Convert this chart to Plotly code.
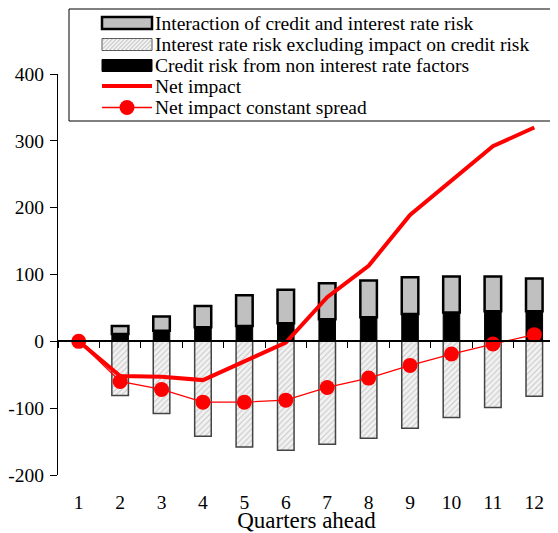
import plotly.graph_objects as go

quarters = list(range(1, 13))
credit_risk = [0, 11, 16, 21, 23, 27, 33, 36, 41, 43, 45, 45]
interaction = [0, 12, 21, 32, 46, 50, 54, 55, 55, 54, 52, 49]
rate_risk = [0, -81, -108, -142, -158, -163, -154, -145, -130, -114, -99, -82]
net_impact = [0, -52, -53, -58, -30, -2, 66, 113, 189, 240, 292, 320]
net_const_spread = [0, -60, -72, -91, -91, -88, -69, -55, -36, -19, -4, 10]

y_ticks = [-200, -100, 0, 100, 200, 300, 400]
y_tick_text = ["-200", "-100", "0", "100", "200", "300", "400"]

legend_names = [
    "Interaction of credit and interest rate risk",
    "Interest rate risk excluding impact on credit risk",
    "Credit risk from non interest rate factors",
    "Net impact",
    "Net impact constant spread",
]

font = "Liberation Serif, Times New Roman, serif"
fsize = 19.5
bw = 0.4

# page has an 8px body margin, so the figure is drawn 8px smaller
W, H = 550, 525
ML, MR, MT, MB = 50, 3, 66, 58
PW, PH = W - ML - MR, H - MT - MB


def px(x):
    return (x - 8 - ML) / PW


def py(y):
    return (H - MB - (y - 8)) / PH


fig = go.Figure()

fig.add_trace(go.Bar(
    x=quarters[1:], y=credit_risk[1:], width=bw, name=legend_names[2],
    marker=dict(color="black", line=dict(color="black", width=1)),
))
fig.add_trace(go.Bar(
    x=quarters[1:], y=interaction[1:], width=bw, name=legend_names[0],
    marker=dict(color="#c0c0c0", line=dict(color="black", width=2.5)),
))
fig.add_trace(go.Bar(
    x=quarters[1:], y=rate_risk[1:], width=bw, name=legend_names[1],
    marker=dict(color="#f2f2f2", line=dict(color="#444", width=1.5),
                pattern=dict(shape="/", fgcolor="#9a9a9a", bgcolor="#f2f2f2",
                             size=4, solidity=0.25)),
))
fig.add_trace(go.Scatter(
    x=quarters, y=net_impact, mode="lines", name=legend_names[3],
    line=dict(color="red", width=4), xaxis="x2",
))
fig.add_trace(go.Scatter(
    x=quarters, y=net_const_spread, mode="lines+markers", name=legend_names[4],
    line=dict(color="red", width=1.3), marker=dict(color="red", size=15),
    xaxis="x2",
))

# hand-made legend box
shapes = [dict(type="rect", xref="paper", yref="paper",
               x0=px(69), x1=px(556), y0=py(121), y1=py(9),
               line=dict(color="black", width=1), fillcolor="white",
               layer="below")]
rows = [23, 44.5, 65.5, 86, 107.5]
sx0, sx1 = 102, 152
# interaction symbol
shapes.append(dict(type="rect", xref="paper", yref="paper",
                   x0=px(sx0), x1=px(sx1), y0=py(rows[0] + 6), y1=py(rows[0] - 6),
                   fillcolor="#c0c0c0", line=dict(color="black", width=2.5)))
# hatched symbol
hy0, hy1 = rows[1] - 6, rows[1] + 6
shapes.append(dict(type="rect", xref="paper", yref="paper",
                   x0=px(sx0), x1=px(sx1), y0=py(hy1), y1=py(hy0),
                   fillcolor="#f2f2f2", line=dict(color="#555", width=1)))
path = ""
c = sx0 + hy0 + 3
while c < sx1 + hy1:
    xa, xb = max(sx0, c - hy1), min(sx1, c - hy0)
    if xb > xa:
        path += "M %.5f %.5f L %.5f %.5f " % (px(xa), py(c - xa), px(xb), py(c - xb))
    c += 4
shapes.append(dict(type="path", xref="paper", yref="paper", path=path,
                   line=dict(color="#a8a8a8", width=0.8)))
# credit risk symbol
shapes.append(dict(type="rect", xref="paper", yref="paper",
                   x0=px(sx0), x1=px(sx1), y0=py(rows[2] + 6), y1=py(rows[2] - 6),
                   fillcolor="black", line=dict(color="black", width=1)))
# net impact symbol
shapes.append(dict(type="line", xref="paper", yref="paper",
                   x0=px(sx0), x1=px(sx1), y0=py(rows[3]), y1=py(rows[3]),
                   line=dict(color="red", width=4)))
# constant spread symbol
shapes.append(dict(type="line", xref="paper", yref="paper",
                   x0=px(sx0), x1=px(sx1), y0=py(rows[4]), y1=py(rows[4]),
                   line=dict(color="red", width=1.3)))
mc = (sx0 + sx1) / 2
shapes.append(dict(type="circle", xref="paper", yref="paper",
                   x0=px(mc - 7.5), x1=px(mc + 7.5),
                   y0=py(rows[4] + 7.5), y1=py(rows[4] - 7.5),
                   fillcolor="red", line=dict(color="red", width=0)))

annotations = [dict(x=px(153), y=py(r), xref="paper", yref="paper",
                    text=name, showarrow=False, xanchor="left", yanchor="middle",
                    font=dict(family=font, size=fsize, color="black"))
               for name, r in zip(legend_names, rows)]

fig.update_layout(
    width=W, height=H,
    margin=dict(l=ML, r=MR, t=MT, b=MB),
    plot_bgcolor="white", paper_bgcolor="white",
    font=dict(family=font, size=fsize, color="black"),
    barmode="relative",
    showlegend=False,
    xaxis=dict(range=[0.5, 12.5], tickvals=quarters, showline=False,
               showgrid=False, zeroline=False, ticks="",
               ticklabelstandoff=13, automargin=False,
               title=dict(text="Quarters ahead", standoff=5)),
    xaxis2=dict(range=[0.5, 12.5], overlaying="x", anchor="free",
                position=1 / 3, side="bottom", showline=True,
                linecolor="black", linewidth=1.5, showgrid=False,
                zeroline=False, ticks="outside", ticklen=6,
                tickcolor="black", tickvals=[q - 0.5 for q in quarters] + [12.5],
                showticklabels=False, automargin=False),
    yaxis=dict(range=[-200, 400], tickvals=y_ticks, ticktext=y_tick_text,
               showline=True, linecolor="black", linewidth=1.2,
               ticks="outside", ticklen=7, tickcolor="black",
               ticklabelstandoff=2, automargin=False,
               showgrid=False, zeroline=False),
    shapes=shapes,
    annotations=annotations,
)

fig.write_html("out.html")
